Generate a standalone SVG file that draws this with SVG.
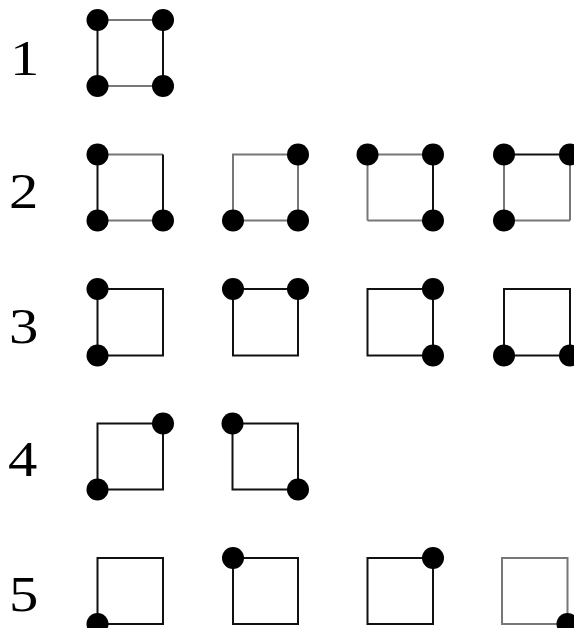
<svg xmlns="http://www.w3.org/2000/svg" width="574" height="628" viewBox="0 0 574 628">
<style>
.lbl{font-family:"Liberation Serif","Times New Roman",serif;font-size:51px;fill:#000}
.d{stroke:#111;stroke-width:2;fill:none}
.g{stroke:#777;stroke-width:2;fill:none}
.dot{fill:#000}
</style>
<rect width="574" height="628" fill="#fff"/>
<g id="labels">
<text class="lbl" transform="translate(10,75) scale(1.15,1)">1</text>
<text class="lbl" transform="translate(9,208) scale(1.15,1)">2</text>
<text class="lbl" transform="translate(9,343) scale(1.15,1)">3</text>
<text class="lbl" transform="translate(8,476) scale(1.15,1)">4</text>
<text class="lbl" transform="translate(9,611) scale(1.15,1)">5</text>
</g>
<g id="connectors">
<line class="g" x1="97.5" y1="20" x2="163" y2="20"/>
<line class="g" x1="97.5" y1="86" x2="163" y2="86"/>
<line class="d" x1="97.5" y1="20" x2="97.5" y2="86"/>
<line class="d" x1="163" y1="20" x2="163" y2="86"/>
<line class="g" x1="97.5" y1="154.5" x2="163" y2="154.5"/>
<line class="g" x1="97.5" y1="220.5" x2="163" y2="220.5"/>
<line class="d" x1="97.5" y1="154.5" x2="97.5" y2="220.5"/>
<line class="d" x1="163" y1="154.5" x2="163" y2="220.5"/>
<rect class="g" x="233" y="154.5" width="65" height="66"/>
<line class="g" x1="367.5" y1="154.5" x2="433" y2="154.5"/>
<line class="g" x1="367.5" y1="220.5" x2="433" y2="220.5"/>
<line class="g" x1="367.5" y1="154.5" x2="367.5" y2="220.5"/>
<line class="d" x1="433" y1="154.5" x2="433" y2="220.5"/>
<line class="d" x1="504" y1="154.5" x2="570" y2="154.5"/>
<line class="g" x1="504" y1="220.5" x2="570" y2="220.5"/>
<line class="g" x1="504" y1="154.5" x2="504" y2="220.5"/>
<line class="g" x1="570" y1="154.5" x2="570" y2="220.5"/>
<rect class="d" x="97.5" y="289" width="65.5" height="66.5"/>
<rect class="d" x="233" y="289" width="65" height="66.5"/>
<rect class="d" x="367.5" y="289" width="65.5" height="66.5"/>
<rect class="d" x="504" y="289" width="66" height="66.5"/>
<rect class="d" x="97.5" y="423.5" width="65.5" height="66"/>
<rect class="d" x="232.5" y="423.5" width="65.5" height="66"/>
<rect class="d" x="97.5" y="558" width="65.5" height="66"/>
<rect class="d" x="233" y="558" width="65" height="66"/>
<rect class="d" x="367.5" y="558" width="65.5" height="66"/>
<rect class="g" x="502" y="558" width="65.5" height="66"/>
</g>
<g id="row1">
<circle class="dot" cx="97.5" cy="20" r="11"/>
<circle class="dot" cx="163" cy="20" r="11"/>
<circle class="dot" cx="97.5" cy="86" r="11"/>
<circle class="dot" cx="163" cy="86" r="11"/>
</g>
<g id="row2">
<circle class="dot" cx="97.5" cy="154.5" r="11"/>
<circle class="dot" cx="97.5" cy="220.5" r="11"/>
<circle class="dot" cx="163" cy="220.5" r="11"/>
<circle class="dot" cx="298" cy="154.5" r="11"/>
<circle class="dot" cx="233" cy="220.5" r="11"/>
<circle class="dot" cx="298" cy="220.5" r="11"/>
<circle class="dot" cx="367.5" cy="154.5" r="11"/>
<circle class="dot" cx="433" cy="154.5" r="11"/>
<circle class="dot" cx="433" cy="220.5" r="11"/>
<circle class="dot" cx="504" cy="154.5" r="11"/>
<circle class="dot" cx="570" cy="154.5" r="11"/>
<circle class="dot" cx="504" cy="220.5" r="11"/>
</g>
<g id="row3">
<circle class="dot" cx="97.5" cy="289" r="11"/>
<circle class="dot" cx="97.5" cy="355.5" r="11"/>
<circle class="dot" cx="233" cy="289" r="11"/>
<circle class="dot" cx="298" cy="289" r="11"/>
<circle class="dot" cx="433" cy="289" r="11"/>
<circle class="dot" cx="433" cy="355.5" r="11"/>
<circle class="dot" cx="504" cy="355.5" r="11"/>
<circle class="dot" cx="570" cy="355.5" r="11"/>
</g>
<g id="row4">
<circle class="dot" cx="163" cy="423.5" r="11"/>
<circle class="dot" cx="97.5" cy="489.5" r="11"/>
<circle class="dot" cx="232.5" cy="423.5" r="11"/>
<circle class="dot" cx="298" cy="489.5" r="11"/>
</g>
<g id="row5">
<circle class="dot" cx="97.5" cy="624" r="11"/>
<circle class="dot" cx="233" cy="558" r="11"/>
<circle class="dot" cx="433" cy="558" r="11"/>
<circle class="dot" cx="567.5" cy="624" r="11"/>
</g>
</svg>
